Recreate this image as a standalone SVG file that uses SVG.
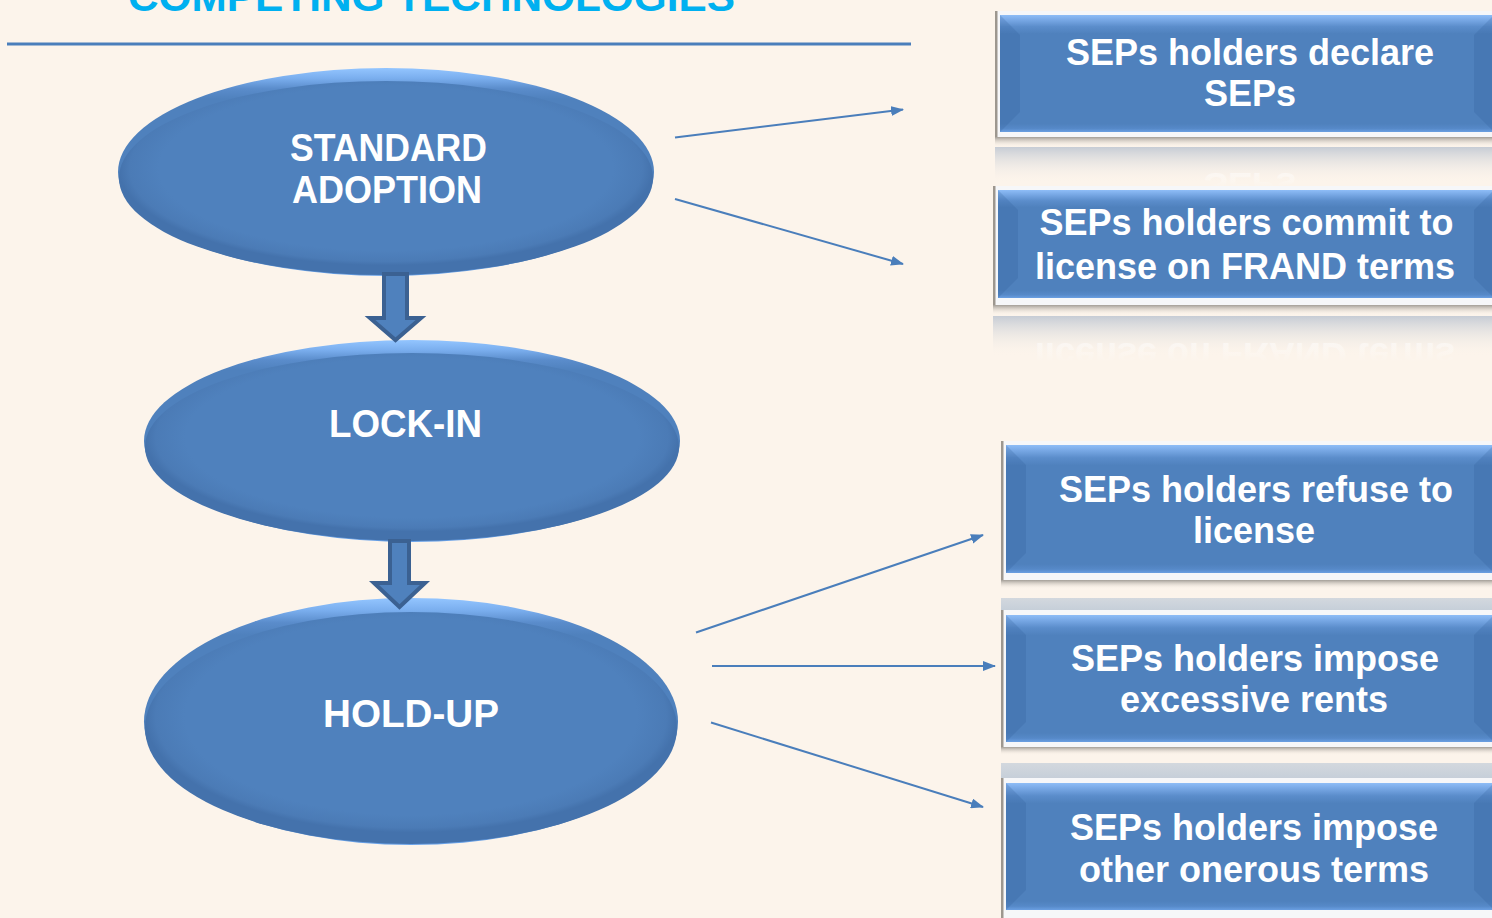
<svg xmlns="http://www.w3.org/2000/svg" width="1492" height="918" viewBox="0 0 1492 918">
  <style>
    .lbl { font-family: "Liberation Sans", Arial, sans-serif; font-weight: bold; font-size: 36px; fill: #ffffff; text-anchor: middle; }
    .elbl { font-family: "Liberation Sans", Arial, sans-serif; font-weight: bold; font-size: 38px; fill: #ffffff; text-anchor: middle; }
    .title { font-family: "Liberation Sans", Arial, sans-serif; font-weight: bold; font-size: 40px; fill: #00b0f0; }
    .conn { stroke: #4a7ebb; stroke-width: 2; fill: none; marker-end: url(#ah); }
    .blk { fill: #4f81bd; stroke: #3b6192; stroke-width: 4; stroke-linejoin: miter; }
    .frame { fill: #f6f7f9; }
    .edge { fill: #9d978f; }
    .face { fill: url(#boxFill); }
    .bevel { fill: #2f5d96; opacity: 0.22; }
    .shadow { fill: url(#shadowGrad); }
    .refl { fill: url(#reflGrad); }
    .rim { fill: url(#rimGrad); }
    .body { fill: url(#bodyGrad); }
  </style>
  <defs>
    <marker id="ah" markerWidth="13" markerHeight="10" refX="12" refY="5" orient="auto" markerUnits="userSpaceOnUse">
      <path d="M0,0 L13,5 L0,10 Z" fill="#4a7ebb"/>
    </marker>
    <linearGradient id="boxFill" x1="0" y1="0" x2="0" y2="1">
      <stop offset="0" stop-color="#8ebdf7"/>
      <stop offset="0.04" stop-color="#79a9e6"/>
      <stop offset="0.1" stop-color="#5b8dcb"/>
      <stop offset="0.16" stop-color="#4f81bd"/>
      <stop offset="0.93" stop-color="#4f81bd"/>
      <stop offset="0.97" stop-color="#5689c8"/>
      <stop offset="1" stop-color="#6a9fe2"/>
    </linearGradient>
    <linearGradient id="shadowGrad" x1="0" y1="0" x2="0" y2="1">
      <stop offset="0" stop-color="#a39e97"/>
      <stop offset="1" stop-color="#fcf4eb" stop-opacity="0"/>
    </linearGradient>
    <linearGradient id="reflGrad" x1="0" y1="0" x2="0" y2="1">
      <stop offset="0" stop-color="#c6ccd5"/>
      <stop offset="1" stop-color="#fcf4eb" stop-opacity="0"/>
    </linearGradient>
    <linearGradient id="bandGrad" x1="0" y1="0" x2="0" y2="1">
      <stop offset="0" stop-color="#d3d8de"/>
      <stop offset="1" stop-color="#c6cfd9"/>
    </linearGradient>
    <linearGradient id="rimGrad" x1="0" y1="0" x2="0" y2="1">
      <stop offset="0" stop-color="#93c5ff"/>
      <stop offset="0.05" stop-color="#7aaeee"/>
      <stop offset="0.1" stop-color="#5a8ccb"/>
      <stop offset="0.15" stop-color="#4f81bd"/>
      <stop offset="0.9" stop-color="#4f81bd"/>
      <stop offset="1" stop-color="#6aa3ea"/>
    </linearGradient>
    <radialGradient id="bodyGrad" cx="0.5" cy="0.45" r="0.5">
      <stop offset="0" stop-color="#4f81bd"/>
      <stop offset="0.85" stop-color="#4f81bd"/>
      <stop offset="0.96" stop-color="#4b7bb6"/>
      <stop offset="1" stop-color="#4472ac"/>
    </radialGradient>
    <linearGradient id="mirrorText1" gradientUnits="userSpaceOnUse" x1="0" y1="106" x2="0" y2="92">
      <stop offset="0" stop-color="#ffffff" stop-opacity="0.45"/>
      <stop offset="1" stop-color="#ffffff" stop-opacity="0"/>
    </linearGradient>
    <linearGradient id="mirrorText2" gradientUnits="userSpaceOnUse" x1="0" y1="279" x2="0" y2="260">
      <stop offset="0" stop-color="#ffffff" stop-opacity="0.45"/>
      <stop offset="1" stop-color="#ffffff" stop-opacity="0"/>
    </linearGradient>
  </defs>

  <!-- page -->
  <rect x="0" y="0" width="1492" height="918" fill="#fcf4eb"/>

  <!-- heading and rule -->
  <g id="heading">
    <text class="title" x="128" y="11" textLength="607" lengthAdjust="spacingAndGlyphs">COMPETING TECHNOLOGIES</text>
    <rect x="7" y="42.5" width="904" height="3" fill="#4a7ebb"/>
  </g>

  <!-- oval stages -->
  <g id="node-standard-adoption">
    <ellipse class="rim" cx="386" cy="172" rx="268" ry="104"/>
    <ellipse class="body" cx="386" cy="178" rx="267" ry="97"/>
    <text class="elbl" x="388.5" y="161" textLength="197" lengthAdjust="spacingAndGlyphs">STANDARD</text>
    <text class="elbl" x="387" y="203" textLength="190" lengthAdjust="spacingAndGlyphs">ADOPTION</text>
  </g>

  <g id="node-lock-in">
    <ellipse class="rim" cx="412" cy="441" rx="268" ry="101"/>
    <ellipse class="body" cx="412" cy="447" rx="267" ry="94"/>
    <text class="elbl" x="405.5" y="437" textLength="153" lengthAdjust="spacingAndGlyphs">LOCK-IN</text>
  </g>

  <g id="node-hold-up">
    <ellipse class="rim" cx="411" cy="721.5" rx="267" ry="123.5"/>
    <ellipse class="body" cx="411" cy="728" rx="266" ry="116"/>
    <text class="elbl" x="411" y="727" textLength="176" lengthAdjust="spacingAndGlyphs">HOLD-UP</text>
  </g>

  <!-- outcome boxes -->
  <g id="box-declare">
    <rect class="refl" x="995" y="147" width="499" height="36"/>
    <text class="lbl" x="1250" y="106" transform="translate(0,279) scale(1,-1)" style="fill:url(#mirrorText1)">SEPs</text>
    <rect class="shadow" x="995" y="137" width="499" height="10"/>
    <rect class="frame" x="997" y="11" width="497" height="126"/>
    <rect class="edge" x="995" y="11" width="2.5" height="126"/>
    <rect class="face" x="1000" y="15" width="494" height="117"/>
    <polygon class="bevel" points="1000,15 1020,35 1020,112 1000,132"/>
    <polygon class="bevel" points="1494,15 1474,35 1474,112 1494,132"/>
    <text class="lbl" x="1250" y="64.5">SEPs holders declare</text>
    <text class="lbl" x="1250" y="106">SEPs</text>
  </g>

  <g id="box-frand">
    <rect class="refl" x="993" y="316" width="501" height="40"/>
    <text class="lbl" x="1245" y="279" transform="translate(0,622) scale(1,-1)" style="fill:url(#mirrorText2)">license on FRAND terms</text>
    <rect class="shadow" x="993" y="305" width="501" height="10"/>
    <rect class="frame" x="995" y="186" width="499" height="119"/>
    <rect class="edge" x="993" y="186" width="2.5" height="119"/>
    <rect class="face" x="998" y="190" width="496" height="108"/>
    <polygon class="bevel" points="998,190 1018,210 1018,278 998,298"/>
    <polygon class="bevel" points="1494,190 1474,210 1474,278 1494,298"/>
    <text class="lbl" x="1246.5" y="235">SEPs holders commit to</text>
    <text class="lbl" x="1245" y="279">license on FRAND terms</text>
  </g>

  <g id="box-refuse">
    <rect class="shadow" x="1001" y="580" width="493" height="9"/>
    <rect x="1001" y="598" width="493" height="12" fill="url(#bandGrad)"/>
    <rect class="frame" x="1003" y="441" width="491" height="139"/>
    <rect class="edge" x="1001" y="441" width="2.5" height="139"/>
    <rect class="face" x="1006" y="445" width="488" height="128"/>
    <polygon class="bevel" points="1006,445 1026,465 1026,553 1006,573"/>
    <polygon class="bevel" points="1494,445 1474,465 1474,553 1494,573"/>
    <text class="lbl" x="1256" y="501.5">SEPs holders refuse to</text>
    <text class="lbl" x="1254" y="543">license</text>
  </g>

  <g id="box-rents">
    <rect class="shadow" x="1001" y="747" width="493" height="8"/>
    <rect x="1001" y="763" width="493" height="15" fill="url(#bandGrad)"/>
    <rect class="frame" x="1003" y="610" width="491" height="137"/>
    <rect class="edge" x="1001" y="610" width="2.5" height="137"/>
    <rect class="face" x="1006" y="615" width="488" height="127"/>
    <polygon class="bevel" points="1006,615 1026,635 1026,722 1006,742"/>
    <polygon class="bevel" points="1494,615 1474,635 1474,722 1494,742"/>
    <text class="lbl" x="1255" y="671">SEPs holders impose</text>
    <text class="lbl" x="1254" y="712">excessive rents</text>
  </g>

  <g id="box-onerous">
    <rect class="frame" x="1003" y="778" width="491" height="140"/>
    <rect class="edge" x="1001" y="778" width="2.5" height="140"/>
    <rect class="face" x="1006" y="783" width="488" height="127"/>
    <polygon class="bevel" points="1006,783 1026,803 1026,890 1006,910"/>
    <polygon class="bevel" points="1494,783 1474,803 1474,890 1494,910"/>
    <text class="lbl" x="1254" y="840">SEPs holders impose</text>
    <text class="lbl" x="1254" y="882">other onerous terms</text>
  </g>

  <!-- connectors -->
  <g id="connectors">
    <path class="blk" d="M384,274 L407,274 L407,318 L421,318 L395.5,340 L370,318 L384,318 Z"/>
    <path class="blk" d="M390,541 L409,541 L409,583 L425,583 L399.5,607 L374,583 L390,583 Z"/>
    <line class="conn" x1="675" y1="137.5" x2="903" y2="109.5"/>
    <line class="conn" x1="675" y1="199" x2="903" y2="264"/>
    <line class="conn" x1="696" y1="632.5" x2="983" y2="535"/>
    <line class="conn" x1="712" y1="666" x2="995" y2="666"/>
    <line class="conn" x1="711" y1="722.5" x2="983" y2="807"/>
  </g>
</svg>
